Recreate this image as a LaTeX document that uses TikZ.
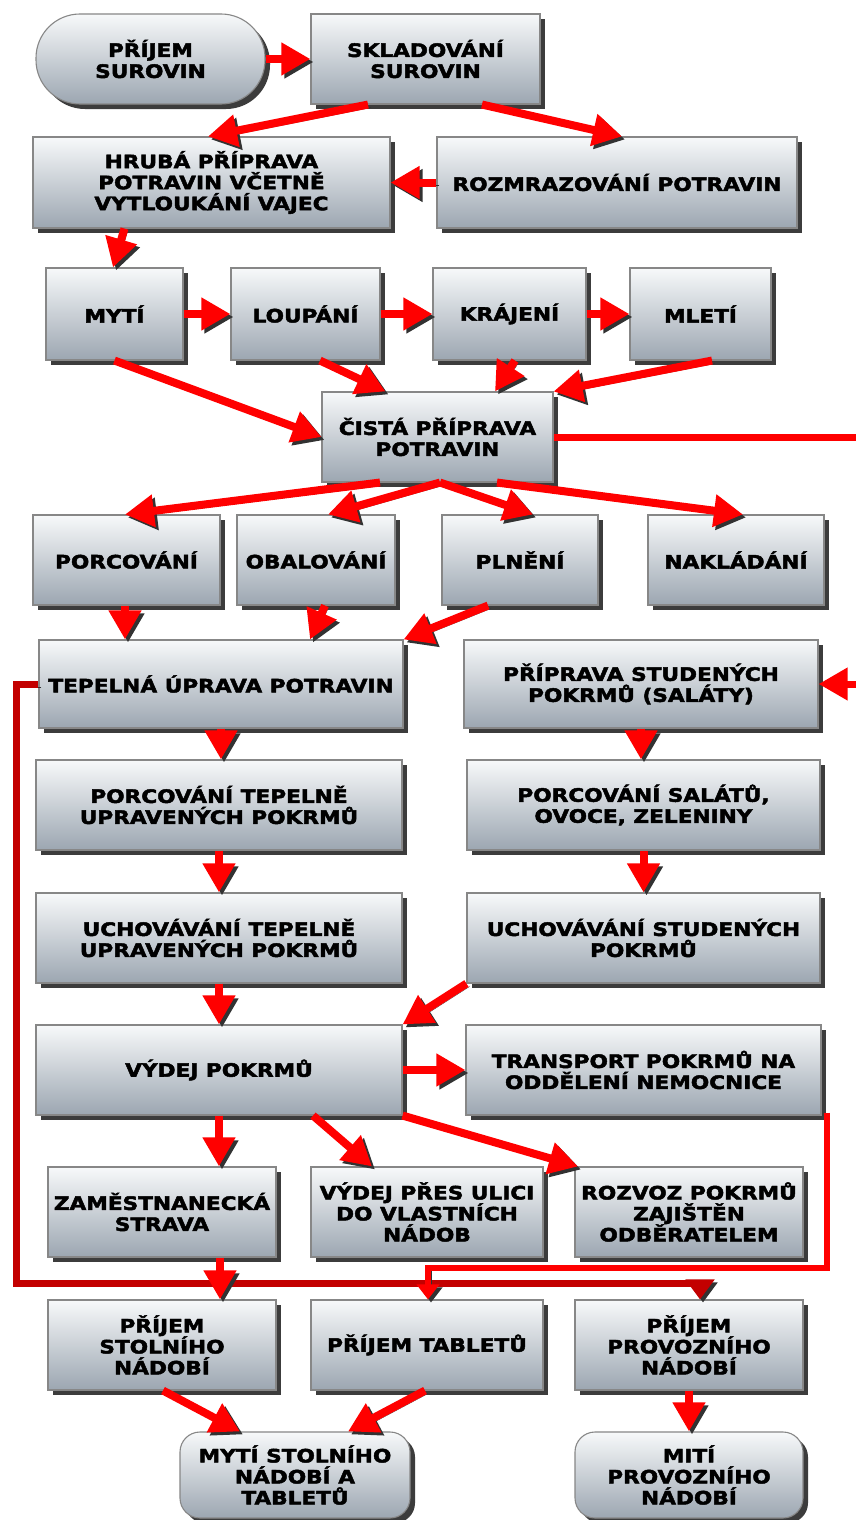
\documentclass[tikz,border=0pt]{standalone}
\usepackage{fontspec}
\setmainfont{DejaVu Sans}[FakeStretch=1.17, BoldFeatures={FakeBold=2.5}]
\usetikzlibrary{arrows.meta,shadows,calc}
\definecolor{boxtop}{RGB}{247,249,250}
\definecolor{boxbot}{RGB}{156,166,177}
\definecolor{boxline}{RGB}{135,135,135}
\definecolor{dkred}{RGB}{195,0,0}
\definecolor{shad}{RGB}{50,50,50}
\begin{document}
\begin{tikzpicture}[x=1pt,y=-1pt,
  box/.style={draw=boxline, line width=1.1pt, top color=boxtop, bottom color=boxbot,
    drop shadow={shadow xshift=5pt, shadow yshift=-5pt, fill=shad, opacity=0.95},
    inner sep=0pt, align=center, text=black,
    font=\fontsize{18.5}{21}\selectfont\bfseries},
  sz/.style 2 args={minimum width=#1pt, minimum height=#2pt},
  arr/.style={draw=red, line width=8pt, -{Triangle[width=31pt,length=29pt]},
    preaction={draw=shad, transform canvas={xshift=3pt,yshift=-3pt}}},
  darr/.style={draw=dkred, line width=7pt, -{Triangle[width=28pt,length=20pt]},
    preaction={draw=shad, transform canvas={xshift=3pt,yshift=-3pt}}},
  tarr/.style={draw=red, line width=6pt, -{Triangle[width=22pt,length=15pt]},
    preaction={draw=shad, transform canvas={xshift=3pt,yshift=-3pt}}},
  carr/.style={draw=red, line width=7pt, -{Triangle[width=31pt,length=29pt]},
    preaction={draw=shad, transform canvas={xshift=2pt,yshift=-3pt}}}
]
\useasboundingbox (0,0) rectangle (856,1520);
\fill[white] (0,0) rectangle (856,1520);
\clip (0,0) rectangle (856,1520);

% row 1
\node[box, sz={229}{90}, rounded corners=44pt] (pri) at (150.5,59) {PŘÍJEM\\SUROVIN};
\node[box, sz={229}{90}] (skl) at (425.5,59) {SKLADOVÁNÍ\\SUROVIN};
% row 2
\node[box, sz={357}{91}] (hru) at (211.5,182.5) {HRUBÁ PŘÍPRAVA\\POTRAVIN VČETNĚ\\VYTLOUKÁNÍ VAJEC};
\node[box, sz={360}{91}] (roz) at (617,182.5) {ROZMRAZOVÁNÍ POTRAVIN};
% row 3
\node[box, sz={137}{92}] (myt) at (114.5,314) {MYTÍ};
\node[box, sz={149}{92}] (lou) at (305.5,314) {LOUPÁNÍ};
\node[box, sz={153}{92}] (kra) at (509.5,314) {KRÁJENÍ};
\node[box, sz={141}{92}] (mle) at (700.5,314) {MLETÍ};
% row 4
\node[box, sz={231}{90}] (cis) at (437.5,437) {ČISTÁ PŘÍPRAVA\\POTRAVIN};
% row 5
\node[box, sz={187}{90}] (por) at (126.5,560) {PORCOVÁNÍ};
\node[box, sz={158}{90}] (oba) at (316,560) {OBALOVÁNÍ};
\node[box, sz={156}{90}] (pln) at (520,560) {PLNĚNÍ};
\node[box, sz={176}{90}] (nak) at (736,560) {NAKLÁDÁNÍ};
% row 6
\node[box, sz={364}{88}] (tep) at (221,684) {TEPELNÁ ÚPRAVA POTRAVIN};
\node[box, sz={354}{88}] (stu) at (641,684) {PŘÍPRAVA STUDENÝCH\\POKRMŮ (SALÁTY)};
% row 7
\node[box, sz={366}{90}] (pt) at (219,805) {PORCOVÁNÍ TEPELNĚ\\UPRAVENÝCH POKRMŮ};
\node[box, sz={353}{90}] (ps) at (643.5,805) {PORCOVÁNÍ SALÁTŮ,\\OVOCE, ZELENINY};
% row 8
\node[box, sz={366}{90}] (ut) at (219,938) {UCHOVÁVÁNÍ TEPELNĚ\\UPRAVENÝCH POKRMŮ};
\node[box, sz={353}{90}] (us) at (643.5,938) {UCHOVÁVÁNÍ STUDENÝCH\\POKRMŮ};
% row 9
\node[box, sz={366}{90}] (vyd) at (219,1070) {VÝDEJ POKRMŮ};
\node[box, sz={355}{90}] (tra) at (643.5,1070) {TRANSPORT POKRMŮ NA\\ODDĚLENÍ NEMOCNICE};
% row 10
\node[box, sz={228}{90}] (zam) at (162,1212) {ZAMĚSTNANECKÁ\\STRAVA};
\node[box, sz={232}{90}] (uli) at (427,1212) {VÝDEJ PŘES ULICI\\DO VLASTNÍCH\\NÁDOB};
\node[box, sz={228}{90}] (rzv) at (689,1212) {ROZVOZ POKRMŮ\\ZAJIŠTĚN\\ODBĚRATELEM};
% row 11
\node[box, sz={228}{90}] (pst) at (162,1345) {PŘÍJEM\\STOLNÍHO\\NÁDOBÍ};
\node[box, sz={232}{90}] (ptab) at (427,1345) {PŘÍJEM TABLETŮ};
\node[box, sz={228}{90}] (ppr) at (689,1345) {PŘÍJEM\\PROVOZNÍHO\\NÁDOBÍ};
% row 12
\node[box, sz={230}{86}, rounded corners=20pt] (mst) at (295,1475) {MYTÍ STOLNÍHO\\NÁDOBÍ A\\TABLETŮ};
\node[box, sz={228}{86}, rounded corners=20pt] (mpr) at (689,1475) {MITÍ\\PROVOZNÍHO\\NÁDOBÍ};

% long connectors
\coordinate (dk) at (16,1283);
\draw[darr, line join=miter] (tep.west) -| (dk) -| ([xshift=11pt]ppr.north);
\draw[tarr, line join=miter] ([xshift=5pt,yshift=3pt]tra.south east) -- ++(0,155) -| ([xshift=1pt]ptab.north);
\draw[carr, line join=miter] (cis.east) -- ++(340,0) |- (stu.east);

% arrows
\draw[arr] (pri.east) -- (skl.west);
\draw[arr] ([xshift=-57.5pt]skl.south) -- ([xshift=-3.5pt]hru.north);
\draw[arr] ([xshift=56.5pt]skl.south) -- ([xshift=5pt]roz.north);
\draw[arr] (roz.west) -- (hru.east);
\draw[arr] ([xshift=-87pt]hru.south) -- ([xshift=-1.5pt]myt.north);
\draw[arr] (myt.east) -- (lou.west);
\draw[arr] (lou.east) -- (kra.west);
\draw[arr] (kra.east) -- (mle.west);
\draw[arr] (myt.south) -- (cis.west);
\draw[arr] ([xshift=14.5pt]lou.south) -- ([xshift=-52pt]cis.north);
\draw[arr] ([xshift=5.5pt]kra.south) -- ([xshift=57.5pt]cis.north);
\draw[arr] ([xshift=11.5pt]mle.south) -- (cis.north east);
\draw[arr] ([xshift=-57.5pt]cis.south) -- ([xshift=-1.5pt]por.north);
\draw[arr] ([xshift=2.5pt]cis.south) -- ([xshift=12pt]oba.north);
\draw[arr] ([xshift=2.5pt]cis.south) -- ([xshift=13pt]pln.north);
\draw[arr] ([xshift=59.5pt]cis.south) -- ([xshift=7pt]nak.north);
\draw[arr] ([xshift=-1.5pt]por.south) -- ([xshift=-96pt]tep.north);
\draw[arr] ([xshift=9pt]oba.south) -- ([xshift=89pt]tep.north);
\draw[arr] ([xshift=-32pt]pln.south) -- (tep.north east);
\draw[arr] (tep.south) -- (tep.south |- pt.north);
\draw[arr] (stu.south) -- (stu.south |- ps.north);
\draw[arr] (pt.south) -- (ut.north);
\draw[arr] (ps.south) -- (us.north);
\draw[arr] (ut.south) -- (vyd.north);
\draw[arr] (us.south west) -- (vyd.north east);
\draw[arr] (vyd.east) -- (tra.west);
\draw[arr] (vyd.south) -- (vyd.south |- zam.north);
\draw[arr] ([xshift=94pt]vyd.south) -- ([xshift=-55pt]uli.north);
\draw[arr] (vyd.south east) -- ([xshift=-111pt]rzv.north);
\draw[arr] ([xshift=58pt]zam.south) -- ([xshift=58pt]pst.north);
\draw[arr] ([xshift=1pt]pst.south) -- ([xshift=-55pt]mst.north);
\draw[arr] ([xshift=-2pt]ptab.south) -- ([xshift=53pt]mst.north);
\draw[arr] (ppr.south) -- (mpr.north);
\end{tikzpicture}
\end{document}
